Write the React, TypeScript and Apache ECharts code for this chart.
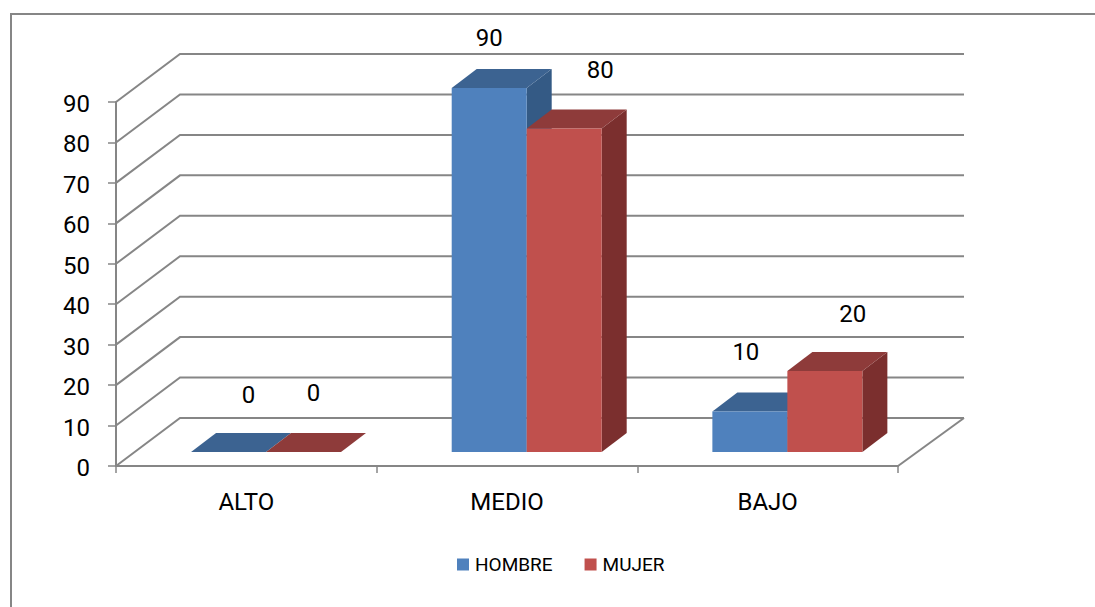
import React, { useEffect, useRef } from "react";
import * as echarts from "echarts";

const categories = ["ALTO", "MEDIO", "BAJO"];
const hombre = [0, 90, 10];
const mujer = [0, 80, 20];
const tickValues = [0, 10, 20, 30, 40, 50, 60, 70, 80, 90];

// 3D look of the plot, in pixels
const WALL_DX = 64;
const WALL_RIGHT_EXTRA = 2;
const WALL_DY = -48;
const BAR_DX = 19.7;
const BAR_DY = -14;
const DEPTH_DX = 25;
const DEPTH_DY = -19;
const BAR_BAND_SHARE = 0.2877;
const LINE = "#868686";
const FONT = "Roboto";

// hand placement of the value labels, relative to the front-top centre of each bar
const nudgeHombre = [[20, -57], [0, -50], [-4, -60]];
const nudgeMujer = [[10, -59], [36, -58], [28, -57]];

const gridRender = (params: any, api: any) => {
  const v = api.value(1);
  const cs = params.coordSys;
  const y = api.coord([0, v])[1];
  const x0 = cs.x;
  const x1 = cs.x + cs.width;
  const style = { stroke: LINE, lineWidth: 2, fill: "none" };
  const children: any[] = [
    {
      type: "polyline",
      shape: { points: [[x0, y], [x0 + WALL_DX, y + WALL_DY], [x1 + WALL_DX + WALL_RIGHT_EXTRA, y + WALL_DY]] },
      style,
    },
  ];
  if (v === 0) {
    children.push({
      type: "line",
      shape: { x1: x1, y1: y, x2: x1 + WALL_DX + WALL_RIGHT_EXTRA, y2: y + WALL_DY },
      style,
    });
  }
  return { type: "group", children };
};

const barRender = (slot: number, front: string, top: string, side: string, nudge: number[][]) =>
  (_params: any, api: any) => {
    const cat = api.value(0);
    const val = api.value(1);
    const band = api.size([1, 0])[0];
    const w = band * BAR_BAND_SHARE;
    const center = api.coord([cat, 0])[0] + BAR_DX;
    const xl = center + (slot - 1) * w;
    const xr = xl + w;
    const yb = api.coord([cat, 0])[1] + BAR_DY;
    const yt = api.coord([cat, val])[1] + BAR_DY;
    const children: any[] = [];
    if (val > 0) {
      children.push({
        type: "polygon",
        shape: { points: [[xr, yt], [xr + DEPTH_DX, yt + DEPTH_DY], [xr + DEPTH_DX, yb + DEPTH_DY], [xr, yb]] },
        style: { fill: side },
      });
    }
    children.push({
      type: "polygon",
      shape: { points: [[xl, yt], [xl + DEPTH_DX, yt + DEPTH_DY], [xr + DEPTH_DX, yt + DEPTH_DY], [xr, yt]] },
      style: { fill: top },
    });
    if (val > 0) {
      children.push({
        type: "rect",
        shape: { x: xl, y: yt, width: w, height: yb - yt },
        style: { fill: front },
      });
    }
    const [ndx, ndy] = nudge[Math.round(cat)];
    children.push({
      type: "text",
      style: {
        text: String(val),
        x: (xl + xr) / 2 + ndx,
        y: yt + ndy,
        fill: "#000",
        font: `24px ${FONT}`,
        textAlign: "center",
        textVerticalAlign: "middle",
      },
    });
    return { type: "group", children };
  };

export default function App() {
  const ref = useRef<HTMLDivElement>(null);
  useEffect(() => {
    document.body.style.margin = "0";
    const chart = echarts.init(ref.current!, undefined, { renderer: "svg" });
    chart.setOption({
      animation: false,
      backgroundColor: "#fff",
      textStyle: { fontFamily: FONT },
      grid: { left: 116, top: 102, width: 782, height: 364, containLabel: false },
      xAxis: {
        type: "category",
        data: categories,
        axisLine: { show: true, lineStyle: { color: LINE, width: 2 } },
        axisTick: { show: true, length: 7, lineStyle: { color: LINE, width: 1.5 } },
        axisLabel: { color: "#000", fontSize: 24, fontFamily: FONT, margin: 24 },
        splitLine: { show: false },
      },
      yAxis: {
        type: "value",
        min: 0,
        max: 90,
        interval: 10,
        axisLine: { show: true, lineStyle: { color: LINE, width: 2 } },
        axisTick: { show: true, length: 8, lineStyle: { color: LINE, width: 1.5 } },
        axisLabel: { color: "#000", fontSize: 24, fontFamily: FONT, margin: 26, verticalAlign: "top", lineHeight: 4 },
        splitLine: { show: false },
      },
      legend: {
        left: 452,
        top: 550,
        icon: "rect",
        itemWidth: 12,
        itemHeight: 12,
        itemGap: 32,
        data: ["HOMBRE", "MUJER"],
        textStyle: { color: "#000", fontSize: 19, fontFamily: FONT, padding: [2, 0, 0, 1] },
      },
      graphic: [
        {
          type: "polyline",
          silent: true,
          shape: { points: [[11, 607], [11, 14], [1095, 14]] },
          style: { stroke: LINE, lineWidth: 2, fill: "none" },
        },
      ],
      series: [
        {
          type: "custom",
          name: "grid",
          silent: true,
          clip: false,
          renderItem: gridRender,
          encode: { x: 0, y: 1 },
          data: tickValues.map((v) => [0, v]),
        },
        {
          type: "custom",
          name: "HOMBRE",
          clip: false,
          itemStyle: { color: "#4F81BD" },
          renderItem: barRender(0, "#4F81BD", "#3C6391", "#345A85", nudgeHombre),
          encode: { x: 0, y: 1 },
          data: hombre.map((v, i) => [i, v]),
        },
        {
          type: "custom",
          name: "MUJER",
          clip: false,
          itemStyle: { color: "#C0504D" },
          renderItem: barRender(1, "#C0504D", "#8E3B3A", "#7B2F2E", nudgeMujer),
          encode: { x: 0, y: 1 },
          data: mujer.map((v, i) => [i, v]),
        },
      ],
    });
    return () => chart.dispose();
  }, []);
  return <div ref={ref} style={{ width: 1095, height: 607 }} />;
}
